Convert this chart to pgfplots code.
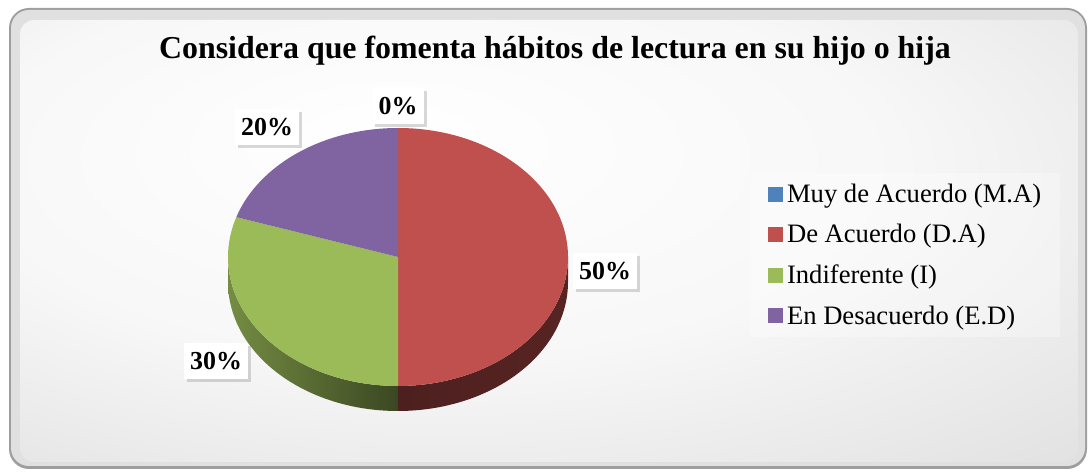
\documentclass[border=0pt]{standalone}
\usepackage{pgfplots}
\pgfplotsset{compat=1.18}
\usepackage{fontspec}
\setmainfont{Liberation Serif}
\usetikzlibrary{shadows}

\definecolor{cMA}{HTML}{4F81BD}
\definecolor{cDA}{HTML}{C0504D}
\definecolor{cI}{HTML}{9BBB59}
\definecolor{cED}{HTML}{8064A2}

\pgfdeclareradialshading{bgshade}{\pgfpoint{-8bp}{12bp}}{%
  color(0bp)=(white); color(22bp)=(white!97!black);
  color(50bp)=(white!85!black); color(75bp)=(white!78!black)}

\begin{document}
\begin{tikzpicture}
% percentages
\def\vMA{0}\def\vDA{50}\def\vI{30}\def\vED{20}
% cumulative angles, clockwise from 12 o'clock
\pgfmathsetmacro\aA{90}
\pgfmathsetmacro\aB{\aA-3.6*\vMA}
\pgfmathsetmacro\aC{\aB-3.6*\vDA}
\pgfmathsetmacro\aD{\aC-3.6*\vI}
\pgfmathsetmacro\aE{\aD-3.6*\vED}
% visible front wall ranges
\pgfmathsetmacro\dahi{min(\aB,0)}\pgfmathsetmacro\dalo{max(\aC,-180)}
\pgfmathsetmacro\ihi{min(\aC,0)}\pgfmathsetmacro\ilo{max(\aD,-180)}
\def\cx{398}\def\cy{215}\def\rx{170}\def\ry{129}\def\dz{25}
\begin{axis}[
  scale only axis, width=1089bp, height=472bp,
  xmin=0, xmax=1089, ymin=0, ymax=472,
  hide axis, clip=false,
  legend image code/.code={\fill[#1] (0bp,-7bp) rectangle (14bp,7bp);},
  legend cell align=left,
  legend style={at={(0.702,0.619)}, anchor=north west, draw=none,
    fill=none, font=\fontsize{26.7}{31}\selectfont, row sep=16.5bp,
    /tikz/every odd column/.style={column sep=3bp}},
]
\path (axis cs:0,0) rectangle (axis cs:1089,472);
% frame
\fill[white!62!black, rounded corners=20bp] (axis cs:9,3) rectangle (axis cs:1087,464);
\fill[white!88!black, rounded corners=18bp] (axis cs:11,6) rectangle (axis cs:1085,462);
\shade[shading=bgshade, rounded corners=14bp] (axis cs:20,10) rectangle (axis cs:1078,452);
% faint legend panel
\fill[white, opacity=0.3] (axis cs:750,135) rectangle (axis cs:1060,299);

% title
\node[font=\bfseries\fontsize{32}{38}\selectfont, anchor=base] at (axis cs:555,413)
  {Considera que fomenta hábitos de lectura en su hijo o hija};

% front walls
\shade[left color=cDA!40!black, right color=cDA!45!black]
  (axis cs:{\cx+\rx*cos(\dahi)},{\cy+\ry*sin(\dahi)})
  arc[start angle=\dahi, end angle=\dalo, x radius=\rx bp, y radius=\ry bp]
  -- ++(0bp,-\dz bp)
  arc[start angle=\dalo, end angle=\dahi, x radius=\rx bp, y radius=\ry bp] -- cycle;
\shade[left color=cI!75!black, right color=cI!38!black]
  (axis cs:{\cx+\rx*cos(\ihi)},{\cy+\ry*sin(\ihi)})
  arc[start angle=\ihi, end angle=\ilo, x radius=\rx bp, y radius=\ry bp]
  -- ++(0bp,-\dz bp)
  arc[start angle=\ilo, end angle=\ihi, x radius=\rx bp, y radius=\ry bp] -- cycle;

% top slices
\fill[cDA] (axis cs:\cx,\cy) -- (axis cs:{\cx+\rx*cos(\aB)},{\cy+\ry*sin(\aB)})
  arc[start angle=\aB, end angle=\aC, x radius=\rx bp, y radius=\ry bp] -- cycle;
\fill[cI] (axis cs:\cx,\cy) -- (axis cs:{\cx+\rx*cos(\aC)},{\cy+\ry*sin(\aC)})
  arc[start angle=\aC, end angle=\aD, x radius=\rx bp, y radius=\ry bp] -- cycle;
\fill[cED] (axis cs:\cx,\cy) -- (axis cs:{\cx+\rx*cos(\aD)},{\cy+\ry*sin(\aD)})
  arc[start angle=\aD, end angle=\aE, x radius=\rx bp, y radius=\ry bp] -- cycle;

% data labels
\tikzset{lbl/.style={fill=white, font=\bfseries\fontsize{26}{30}\selectfont,
  text height=18bp, text depth=0bp, inner ysep=9bp, inner xsep=6.5bp,
  drop shadow={shadow xshift=3bp, shadow yshift=-3bp, opacity=0.3}}}
\node[lbl] at (axis cs:398,366) {\vMA\%};
\node[lbl] at (axis cs:605,201) {\vDA\%};
\node[lbl] at (axis cs:216,111) {\vI\%};
\node[lbl] at (axis cs:267,345) {\vED\%};

\addlegendimage{cMA}\addlegendentry{Muy de Acuerdo (M.A)}
\addlegendimage{cDA}\addlegendentry{De Acuerdo (D.A)}
\addlegendimage{cI}\addlegendentry{Indiferente (I)}
\addlegendimage{cED}\addlegendentry{En Desacuerdo (E.D)}
\end{axis}
\end{tikzpicture}
\end{document}
